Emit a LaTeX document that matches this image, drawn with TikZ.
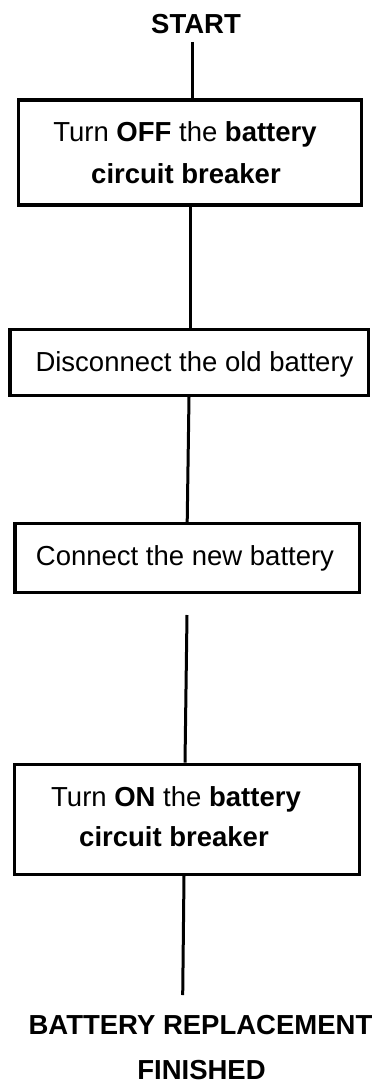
\documentclass[tikz,border=0pt]{standalone}
\usepackage{fontspec}
\setmainfont{Liberation Sans}
\begin{document}
\begin{tikzpicture}[x=1pt,y=-1pt,
  stepbox/.style={draw=black, line width=3.2pt, inner sep=0pt, fill=white},
  lbl/.style={anchor=base, inner sep=0pt, font=\fontsize{27.5}{33}\selectfont},
  lblb/.style={lbl, font=\fontsize{27.5}{33}\selectfont\bfseries},
  conn/.style={draw=black, line width=3pt}]
\useasboundingbox (0,0) rectangle (381,1083);
% boxes
\node[stepbox, minimum width=343pt, minimum height=105pt] (b1) at (190,152.5) {};
\node[stepbox, minimum width=358.5pt, minimum height=66pt] (b2) at (189.2,362.2) {};
\node[stepbox, minimum width=344.5pt, minimum height=69pt] (b3) at (187.2,558) {};
\node[stepbox, minimum width=344.8pt, minimum height=110pt] (b4) at (186.7,819.3) {};
% texts
\node[lblb] (start) at (196,33.3) {START};
\node[lbl] (t1a) at (185,141.7) {Turn \textbf{OFF} the \textbf{battery}};
\node[lblb] (t1b) at (186,183.3) {circuit breaker};
\node[lbl] (t2) at (194.5,371.5) {Disconnect the old battery};
\node[lbl] (t3) at (185,565) {Connect the new battery};
\node[lbl] (t4a) at (176,806) {Turn \textbf{ON} the \textbf{battery}};
\node[lblb] (t4b) at (174,846.7) {circuit breaker};
\node[lblb] (e1) at (200.5,1034) {BATTERY REPLACEMENT};
\node[lblb] (e2) at (201.5,1079.5) {FINISHED};
% free ends
\coordinate (s0) at (192,42);
\coordinate (c3s) at (187,615);
\coordinate (c4e) at (182.7,995);
% connectors
\draw[conn] (s0) -- ([xshift=2pt]b1.north);
\draw[conn] (b1.south) -- ([xshift=0.8pt]b2.north);
\draw[conn] ([xshift=-0.2pt]b2.south) -- (b3.north);
\draw[conn] (c3s) -- ([xshift=-1.7pt]b4.north);
\draw[conn] ([xshift=-2.7pt]b4.south) -- (c4e);
\end{tikzpicture}
\end{document}
